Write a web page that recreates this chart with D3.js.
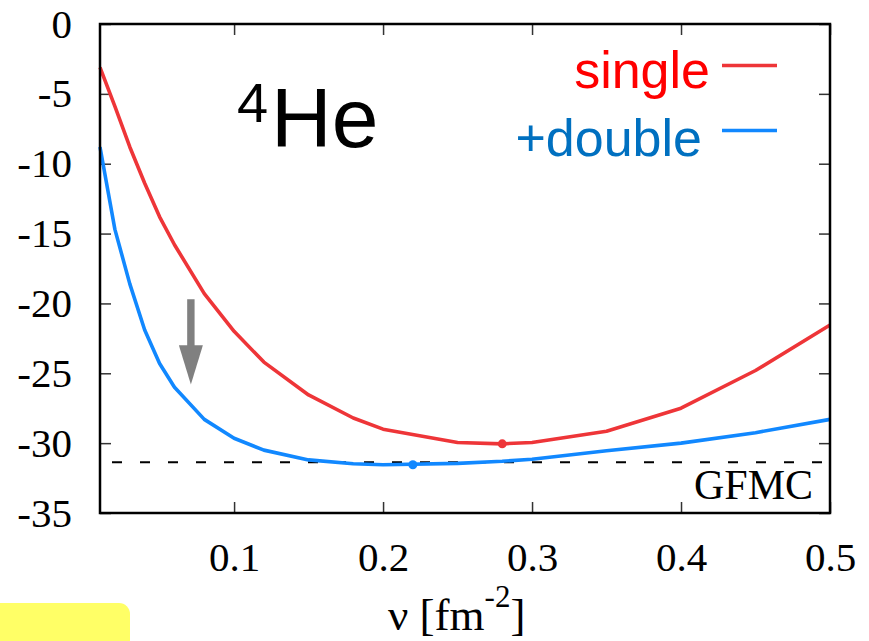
<!DOCTYPE html>
<html><head><meta charset="utf-8">
<script src="https://cdn.jsdelivr.net/npm/d3@7"></script>
<style>
html,body{margin:0;padding:0;background:#fff;}
svg{display:block;}
</style></head>
<body>
<svg id="chart" width="869" height="641"></svg>
<script>
// ---- data ----
const nu = [0.01,0.02,0.03,0.04,0.05,0.06,0.08,0.10,0.12,0.15,0.18,0.20,0.25,0.28,0.30,0.35,0.40,0.45,0.50];
const single = [-3.1,-5.9,-8.8,-11.4,-13.8,-15.8,-19.3,-22.0,-24.2,-26.55,-28.2,-29.0,-29.95,-30.05,-29.95,-29.15,-27.5,-24.8,-21.55];
const dbl    = [-8.8,-14.7,-18.6,-21.9,-24.3,-26.0,-28.3,-29.65,-30.5,-31.2,-31.47,-31.55,-31.45,-31.3,-31.15,-30.55,-30.0,-29.25,-28.3];
const singleMin = [0.28, -30.05];
const doubleMin = [0.22, -31.55];
const gfmc = -31.37;
const xTicks = [0.1,0.2,0.3,0.4,0.5];
const yTicks = [0,-5,-10,-15,-20,-25,-30,-35];
const arrowX = 0.071, arrowTop = -19.7, arrowTip = -25.8, arrowHeadStart = -23.0;

// ---- layout ----
const L = 100, R = 830, T = 24, B = 513;
const svg = d3.select("#chart");
const x = d3.scaleLinear().domain([0.01,0.5]).range([L,R]);
const y = d3.scaleLinear().domain([-35,0]).range([B,T]);
const serif = "'Liberation Serif','Times New Roman',serif";
const sans = "'Liberation Sans',Arial,sans-serif";

// yellow box (bottom-left decoration)
svg.append("rect").attr("x",-20).attr("y",603).attr("width",150).attr("height",60)
  .attr("rx",11).attr("fill","#ffff66");

// axes
const tickCol = "#333";
function styleAxis(g){
  g.select(".domain").remove();
  g.selectAll(".tick line").attr("stroke",tickCol).attr("stroke-width",1.5);
  g.selectAll("text").attr("font-family",serif).attr("font-size",41).attr("fill","#000");
}
svg.append("g").attr("transform",`translate(${L},0)`)
  .call(d3.axisLeft(y).tickValues(yTicks).tickSize(-11).tickPadding(28).tickFormat(d => String(d)))
  .call(styleAxis);
svg.append("g").attr("transform",`translate(${R},0)`)
  .call(d3.axisRight(y).tickValues(yTicks).tickSize(-11).tickFormat(""))
  .call(styleAxis);
svg.append("g").attr("transform",`translate(0,${B})`)
  .call(d3.axisBottom(x).tickValues(xTicks).tickSize(-11).tickPadding(29).tickFormat(d3.format(".1f")))
  .call(styleAxis);
svg.append("g").attr("transform",`translate(0,${T})`)
  .call(d3.axisTop(x).tickValues(xTicks).tickSize(-11).tickFormat(""))
  .call(styleAxis);

// GFMC dashed line
svg.append("line").attr("x1",L+2).attr("x2",x(0.496)).attr("y1",y(gfmc)).attr("y2",y(gfmc))
  .attr("stroke","#000").attr("stroke-width",2).attr("stroke-dasharray","10,18").attr("stroke-dashoffset",-10);
svg.append("text").attr("x",813).attr("y",499).attr("text-anchor","end")
  .attr("font-family",serif).attr("font-size",42).text("GFMC");

// curves
const line = d3.line().x((d,i)=>x(nu[i])).y(d=>y(d));
const red = "#ee3538", blue = "#1188ff";
svg.append("path").attr("d",line(single)).attr("fill","none").attr("stroke",red).attr("stroke-width",3.6).attr("stroke-linejoin","round");
svg.append("path").attr("d",line(dbl)).attr("fill","none").attr("stroke",blue).attr("stroke-width",3.6).attr("stroke-linejoin","round");
svg.append("circle").attr("cx",x(singleMin[0])).attr("cy",y(singleMin[1])).attr("r",4.5).attr("fill",red);
svg.append("circle").attr("cx",x(doubleMin[0])).attr("cy",y(doubleMin[1])).attr("r",4.5).attr("fill",blue);

// arrow
const ax = x(arrowX);
svg.append("rect").attr("x",ax-3.7).attr("y",y(arrowTop)).attr("width",7.4).attr("height",y(arrowHeadStart)-y(arrowTop)+1).attr("fill","#808080");
svg.append("path").attr("d",`M${ax-12},${y(arrowHeadStart)} L${ax+12},${y(arrowHeadStart)} L${ax},${y(arrowTip)} Z`).attr("fill","#808080");

// frame
svg.append("rect").attr("x",L).attr("y",T).attr("width",R-L).attr("height",B-T)
  .attr("fill","none").attr("stroke","#000").attr("stroke-width",2.5);

// 4He label
const he = svg.append("text").attr("font-family",sans).attr("fill","#000");
he.append("tspan").attr("x",237).attr("y",122).attr("font-size",56).text("4");
he.append("tspan").attr("x",271).attr("y",147).attr("font-size",84).text("He");

// legend
svg.append("text").attr("x",710).attr("y",88).attr("text-anchor","end").attr("font-family",sans)
  .attr("font-size",52).attr("fill","#ff0000").text("single");
svg.append("text").attr("x",702).attr("y",156).attr("text-anchor","end").attr("font-family",sans)
  .attr("font-size",52).attr("fill","#0070c0").text("+double");
svg.append("line").attr("x1",722).attr("x2",777).attr("y1",65.5).attr("y2",65.5).attr("stroke",red).attr("stroke-width",3.6);
svg.append("line").attr("x1",722).attr("x2",777).attr("y1",130.5).attr("y2",130.5).attr("stroke",blue).attr("stroke-width",3.6);

// x axis title
const xt = svg.append("text").attr("font-family",serif).attr("font-size",45).attr("fill","#000");
xt.append("tspan").attr("x",388).attr("y",630).text("ν [fm");
xt.append("tspan").attr("dy",-23).attr("font-size",31).text("-2");
xt.append("tspan").attr("dy",23).attr("font-size",45).text("]");
</script>
</body></html>
